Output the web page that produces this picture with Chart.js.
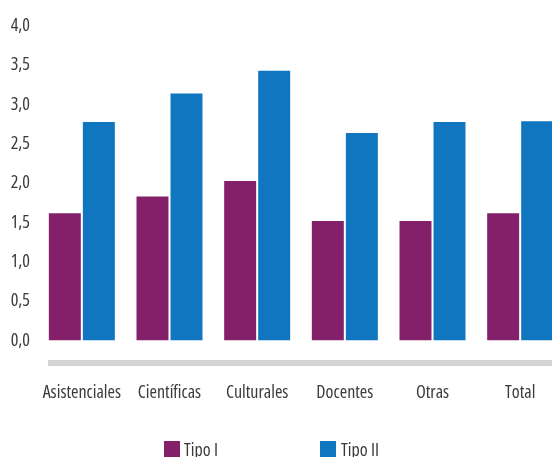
<!DOCTYPE html>
<html>
<head>
<meta charset="utf-8">
<script src="https://cdn.jsdelivr.net/npm/chart.js@4"></script>
<style>
  html, body { margin: 0; padding: 0; background: #ffffff; overflow: hidden; }
  #wrap { position: relative; width: 552px; height: 457px; overflow: hidden; }
  canvas { position: absolute; left: 0; top: 0; }
  .lg-box { position: absolute; width: 16px; height: 16px; top: 441px; }
  .lg-txt { position: absolute; top: 438px; font-family: "Open Sans", sans-serif; font-stretch: condensed; font-size: 18px; color: #3a3a3a; line-height: 22px; white-space: nowrap; }
</style>
</head>
<body>
<div id="wrap">
  <canvas id="c" width="564" height="457"></canvas>
  <div class="lg-box" style="left:164px;background:#84206A"></div>
  <div class="lg-txt" style="left:184px">Tipo I</div>
  <div class="lg-box" style="left:320px;background:#0F76BF"></div>
  <div class="lg-txt" style="left:341px">Tipo II</div>
</div>
<script>
const categories = ["Asistenciales", "Científicas", "Culturales", "Docentes", "Otras", "Total"];
const tipoI = [1.62, 1.83, 2.03, 1.52, 1.52, 1.62];
const tipoII = [2.78, 3.14, 3.43, 2.64, 2.78, 2.79];
const seriesNames = ["Tipo I", "Tipo II"];
const yTicks = [0, 0.5, 1, 1.5, 2, 2.5, 3, 3.5, 4];

// "condensed" goes into the font shorthand (font-stretch) via the weight slot
const FONT = { family: "'Open Sans', sans-serif", weight: 'condensed', size: 18 };

const baseLine = {
  id: 'baseLine',
  beforeDatasetsDraw(chart) {
    const ctx = chart.ctx;
    const y = chart.chartArea.bottom + 22.5;
    ctx.save();
    ctx.strokeStyle = '#d4d4d6';
    ctx.lineWidth = 6;
    ctx.beginPath();
    ctx.moveTo(48, y);
    ctx.lineTo(chart.width, y);
    ctx.stroke();
    ctx.restore();
  }
};

new Chart(document.getElementById('c'), {
  type: 'bar',
  data: {
    labels: categories,
    datasets: [
      { label: seriesNames[0], data: tipoI, backgroundColor: '#84206A', categoryPercentage: 0.776, barPercentage: 0.94 },
      { label: seriesNames[1], data: tipoII, backgroundColor: '#0F76BF', categoryPercentage: 0.776, barPercentage: 0.94 }
    ]
  },
  plugins: [baseLine],
  options: {
    responsive: false,
    animation: false,
    devicePixelRatio: 1,
    layout: { padding: { top: 26, right: 0, bottom: 0, left: 0 } },
    plugins: { legend: { display: false }, tooltip: { enabled: false } },
    scales: {
      x: {
        grid: { display: false, drawTicks: false },
        border: { display: false },
        ticks: { color: '#3a3a3a', font: FONT, padding: 42, maxRotation: 0, autoSkip: false },
        afterFit(scale) { scale.height = 116.5; scale.paddingLeft = 0; scale.paddingRight = 0; }
      },
      y: {
        min: 0, max: 4,
        grid: { display: false, drawTicks: false },
        border: { display: false },
        afterBuildTicks(scale) { scale.ticks = yTicks.map(v => ({ value: v })); },
        ticks: {
          color: '#3a3a3a', font: FONT, padding: 8,
          callback: (v) => Number(v).toFixed(1).replace('.', ',')
        },
        afterFit(scale) { scale.width = 38; scale.paddingTop = 0; scale.paddingBottom = 0; }
      }
    }
  }
});
</script>
</body>
</html>
